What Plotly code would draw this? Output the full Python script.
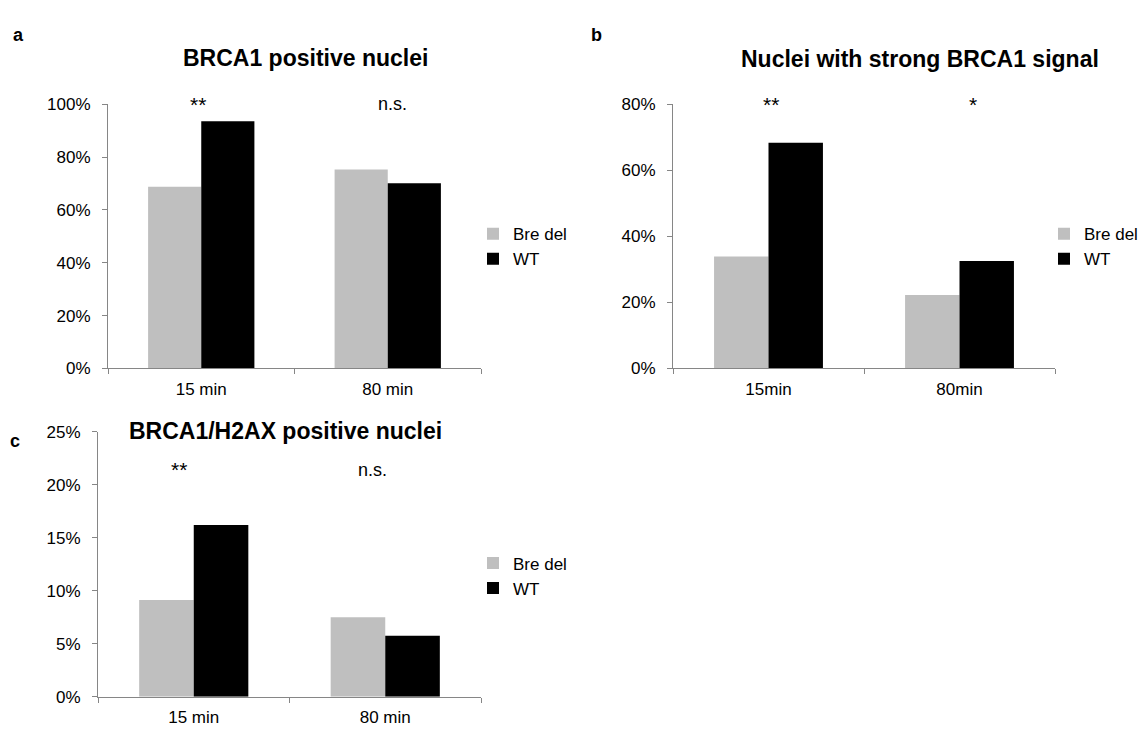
import plotly.graph_objects as go

W, H = 1147, 735

# ---- data ----
cats_a = ["15 min", "80 min"]
cats_b = ["15min", "80min"]
cats_c = ["15 min", "80 min"]
series = ["Bre del", "WT"]

bre_a = [0.688, 0.753]
wt_a = [0.935, 0.701]
bre_b = [0.339, 0.222]
wt_b = [0.683, 0.325]
bre_c = [0.0913, 0.075]
wt_c = [0.162, 0.0575]

sig_a = ["**", "n.s."]
sig_b = ["**", "*"]
sig_c = ["**", "n.s."]

titles = ["BRCA1 positive nuclei", "Nuclei with strong BRCA1 signal", "BRCA1/H2AX positive nuclei"]
letters = ["a", "b", "c"]

GRAY = "#BFBFBF"
BLACK = "#000000"
AXIS = "#868686"
FONT = "Liberation Sans, Arial, sans-serif"

def px(x):
    return x / W

def py(y):
    return 1 - y / H

panels = [
    dict(cats=cats_a, bre=bre_a, wt=wt_a, sig=sig_a, ymax=1.0, dtick=0.2,
         xd=(108, 481), yd=(97.7, 369), sig_y=1.0, sig_xs=[-3, 5],
         title_xy=(305, 50), letter_xy=(18, 27), legend_xy=(473, 244)),
    dict(cats=cats_b, bre=bre_b, wt=wt_b, sig=sig_b, ymax=0.8, dtick=0.2,
         xd=(673, 1055), yd=(97.7, 369), sig_y=0.8, sig_xs=[2, 13],
         title_xy=(920, 51), letter_xy=(596, 27), legend_xy=(1044, 244)),
    dict(cats=cats_c, bre=bre_c, wt=wt_c, sig=sig_c, ymax=0.25, dtick=0.05,
         xd=(98, 481), yd=(434, 706), sig_y=0.214, sig_xs=[-15, -13],
         title_xy=(285, 433), letter_xy=(15, 443), legend_xy=(473, 582)),
]

fig = go.Figure()
annotations = []
for i, p in enumerate(panels):
    n = "" if i == 0 else str(i + 1)
    leg = "legend" + n
    xa = "x" + n
    ya = "y" + n
    fig.add_trace(go.Bar(x=p["cats"], y=p["bre"], name=series[0], marker_color=GRAY,
                         marker_line_width=0, xaxis=xa, yaxis=ya, legend=leg))
    fig.add_trace(go.Bar(x=p["cats"], y=p["wt"], name=series[1], marker_color=BLACK,
                         marker_line_width=0, xaxis=xa, yaxis=ya, legend=leg))
    fig.update_layout(**{
        "xaxis" + n: dict(domain=[px(p["xd"][0]), px(p["xd"][1])], anchor=ya,
                          showline=True, linecolor=AXIS, linewidth=1,
                          ticks="outside", tickson="boundaries", ticklen=5, tickcolor=AXIS,
                          ticklabelstandoff=5,
                          showgrid=False, tickfont=dict(size=17, color="#000", family=FONT),
                          fixedrange=True),
        "yaxis" + n: dict(domain=[py(p["yd"][1]), py(p["yd"][0])], anchor=xa,
                          range=[0, p["ymax"]], dtick=p["dtick"], tickformat=".0%",
                          showline=True, linecolor=AXIS, linewidth=1,
                          ticks="outside", ticklen=5, tickcolor=AXIS, showgrid=False,
                          ticklabelstandoff=8,
                          zeroline=False, tickfont=dict(size=17, color="#000", family=FONT),
                          fixedrange=True),
        leg: dict(x=px(p["legend_xy"][0]), y=py(p["legend_xy"][1]), xanchor="left",
                  yanchor="middle", font=dict(size=17, color="#000", family=FONT),
                  bgcolor="rgba(0,0,0,0)", itemwidth=30, tracegroupgap=0),
    })
    for j, s in enumerate(p["sig"]):
        size = 21 if "*" in s else 18
        annotations.append(dict(x=p["cats"][j], y=p["sig_y"], xref=xa, yref=ya, text=s,
                                showarrow=False, xshift=p["sig_xs"][j], yanchor="middle",
                                font=dict(size=size, color="#000", family=FONT)))
    annotations.append(dict(x=px(p["title_xy"][0]), y=py(p["title_xy"][1]), xref="paper",
                            yref="paper", text="<b>" + titles[i] + "</b>", showarrow=False,
                            xanchor="center", yanchor="middle",
                            font=dict(size=23, color="#000", family=FONT)))
    annotations.append(dict(x=px(p["letter_xy"][0]), y=py(p["letter_xy"][1]), xref="paper",
                            yref="paper", text="<b>" + letters[i] + "</b>", showarrow=False,
                            xanchor="center", yanchor="middle",
                            font=dict(size=18, color="#000", family=FONT)))

fig.update_layout(width=W, height=H, margin=dict(l=0, r=0, t=0, b=0),
                  paper_bgcolor="white", plot_bgcolor="white",
                  barmode="group", bargap=0.43, bargroupgap=0, hovermode=False,
                  annotations=annotations, font=dict(family=FONT))

# pin the figure to the window's top-left corner so the page is exactly the window size
pin = ("var gd=document.getElementById('{plot_id}');"
       "gd.style.position='fixed';gd.style.left='0px';gd.style.top='0px';"
       "document.body.style.margin='0px';document.body.style.overflow='hidden';")
fig.write_html("out.html", post_script=pin, config={"displayModeBar": False})
